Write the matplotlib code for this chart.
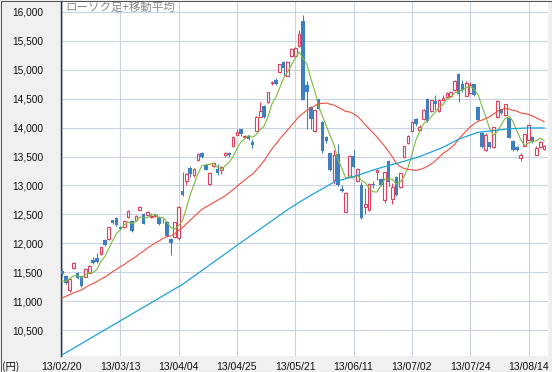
import matplotlib
matplotlib.use("Agg")
import matplotlib.pyplot as plt
from matplotlib.patches import Rectangle
import numpy as np

# ---- data (Nikkei-style daily candles, 13/02/20 .. 13/08/20) ----
tick_pos = [0, 15, 30, 45, 60, 75, 90, 105, 120]
tick_labels = ["13/02/20", "13/03/13", "13/04/04", "13/04/25", "13/05/21",
               "13/06/11", "13/07/02", "13/07/24", "13/08/14"]

opens = [11520, 11430, 11200, 11580, 11480, 11430, 11420, 11490, 11720, 11750,
         11810, 12050, 12070, 12395, 12440, 12280, 12285, 12450, 12385, 12410,
         12585, 12500, 12495, 12455, 12480, 12450, 12410, 12370, 12070, 12110,
         12100, 12900, 13075, 13310, 13175, 13445, 13565, 13360, 13020, 13335,
         13290, 13262, 13520, 13570, 13680, 13880, 13975, 13835, 13860, 13745,
         13950, 14190, 14375, 14440, 14765, 14830, 14955, 15135, 14900, 15245,
         15245, 15420, 15850, 14740, 14360, 13940, 14490, 14090, 13840, 13555,
         13100, 13550, 12945, 12550, 13145, 13517, 13080, 13000, 12630, 12580,
         13030, 13230, 13115, 12750, 13430, 12760, 13150, 12975, 13490, 13730,
         13940, 14150, 13960, 14150, 14490, 14285, 14466, 14280, 14470, 14525,
         14555, 14650, 14925, 14750, 14555, 14600, 14750, 14360, 13900, 13620,
         13747, 13665, 14180, 14320, 14224, 14160, 13775, 13670, 13480, 13690,
         13790, 13845, 13530, 13665, 13625]
highs = [11540, 11450, 11400, 11670, 11500, 11440, 11570, 11620, 11760, 11830,
         11940, 12070, 12290, 12410, 12460, 12300, 12400, 12570, 12400, 12490,
         12650, 12530, 12560, 12520, 12530, 12470, 12420, 12390, 12090, 12370,
         12650, 13225, 13210, 13340, 13300, 13560, 13580, 13370, 13230, 13400,
         13380, 13340, 13580, 13580, 13850, 13985, 13985, 13870, 13870, 13800,
         14200, 14440, 14390, 14620, 14800, 14860, 15100, 15150, 15150, 15380,
         15390, 15680, 15942, 14800, 14380, 14320, 14500, 14110, 13860, 13570,
         13620, 13710, 13000, 12890, 13520, 13620, 13300, 13060, 12950, 13050,
         13080, 13290, 13130, 13240, 13440, 13040, 13170, 13220, 13690, 13870,
         14110, 14170, 14040, 14320, 14510, 14480, 14560, 14490, 14570, 14610,
         14630, 14830, 14953, 14830, 14800, 14790, 14760, 14380, 13920, 13900,
         13760, 14020, 14470, 14330, 14410, 14170, 13780, 13690, 13560, 13890,
         14070, 13860, 13680, 13770, 13700]
lows = [11440, 11290, 11150, 11560, 11380, 11240, 11410, 11480, 11640, 11660,
        11800, 11950, 12060, 12330, 12300, 12230, 12270, 12440, 12200, 12400,
        12570, 12330, 12480, 12440, 12460, 12320, 12350, 12130, 11805, 12100,
        12060, 12810, 13000, 13150, 13150, 13430, 13470, 13260, 13000, 13320,
        13180, 13200, 13500, 13500, 13670, 13870, 13850, 13820, 13790, 13640,
        13940, 14180, 14170, 14430, 14740, 14740, 14940, 14890, 14890, 15230,
        15230, 15400, 14470, 13981, 13980, 13920, 14300, 13560, 13740, 13250,
        13030, 12990, 12880, 12548, 13130, 13300, 13060, 12415, 12500, 12560,
        12950, 13100, 12990, 12700, 12990, 12680, 12820, 12950, 13480, 13720,
        13930, 14030, 13940, 14140, 14100, 14270, 14300, 14270, 14460, 14510,
        14540, 14640, 14450, 14620, 14540, 14580, 14540, 14110, 13640, 13600,
        13650, 13650, 14170, 14240, 14210, 13820, 13590, 13600, 13430, 13680,
        13780, 13740, 13520, 13650, 13610]
closes = [11468, 11309, 11386, 11662, 11399, 11254, 11559, 11606, 11652, 11683,
          11932, 11968, 12284, 12349, 12315, 12240, 12381, 12561, 12221, 12468,
          12636, 12339, 12546, 12472, 12494, 12336, 12398, 12135, 12003, 12362,
          12635, 12834, 13193, 13192, 13288, 13549, 13485, 13276, 13221, 13383,
          13220, 13316, 13568, 13530, 13843, 13926, 13884, 13861, 13799, 13694,
          14180, 14286, 14191, 14608, 14782, 14758, 15096, 15037, 15138, 15361,
          15381, 15627, 14484, 14612, 14143, 14312, 14326, 13589, 13775, 13262,
          13534, 13015, 12904, 12878, 13514, 13318, 13289, 12445, 12686, 13033,
          13007, 13260, 13015, 13230, 13063, 12969, 12834, 13214, 13677, 13853,
          14099, 14055, 14019, 14310, 14109, 14473, 14417, 14473, 14506, 14599,
          14615, 14809, 14590, 14658, 14779, 14731, 14563, 14130, 13661, 13870,
          13668, 14006, 14466, 14258, 14401, 13825, 13606, 13615, 13519, 13885,
          14050, 13753, 13650, 13758, 13690]
# closes of the 24 sessions before 13/02/20 (needed for the moving averages)
prior_closes = [10600, 10610, 10913, 10748, 10710, 10487, 10621, 10927, 10824,
                10867, 11114, 11139, 11191, 11260, 11047, 11464, 11357, 11153,
                11369, 11251, 11307, 11174, 11408, 11372]
# 75-day moving average
ma75_idx = [0, 15, 31, 45, 58, 61, 64, 70, 76, 81, 87, 92, 98, 102, 107, 111, 115, 120, 124]
ma75_val = [10070, 10660, 11290, 11965, 12580, 12710, 12830, 13060, 13175, 13288,
            13400, 13500, 13660, 13800, 13920, 13950, 13980, 13995, 13995]

# ---- derived ----
allc = np.array(prior_closes + closes, dtype=float)
n = len(closes)
off = len(prior_closes)
ma5 = np.array([allc[off + i - 4: off + i + 1].mean() for i in range(n)])
ma25 = np.array([allc[off + i - 24: off + i + 1].mean() for i in range(n)])
x = np.arange(n)
O = np.array(opens, float); H = np.array(highs, float)
L = np.array(lows, float); C = np.array(closes, float)
up = C >= O

W, Hh = 552, 372
fig = plt.figure(figsize=(W / 100, Hh / 100), dpi=100)
fig.patch.set_facecolor("#f0f0f0")
ax = fig.add_axes([61 / W, 16 / Hh, (548 - 61) / W, (371 - 16) / Hh])
ax.set_facecolor("white")

RED = "#e0405e"
BLUE = "#3d7fc1"

# wicks
ax.vlines(x[up], L[up], H[up], color=RED, lw=0.75, zorder=3)
ax.vlines(x[~up], L[~up], H[~up], color=BLUE, lw=0.75, zorder=3)
# bodies
bu = np.maximum(C[up] - O[up], 8)
ax.bar(x[up], bu, bottom=O[up], width=0.68, facecolor="white",
       edgecolor=RED, lw=0.8, zorder=4)
bd = np.maximum(O[~up] - C[~up], 8)
ax.bar(x[~up], bd, bottom=C[~up], width=0.92, color=BLUE, lw=0, zorder=4)

# moving averages
ax.plot(x, ma5, color="#7cbc3a", lw=0.8, zorder=5)
ax.plot(x, ma25, color="#f0503c", lw=0.8, zorder=5)
ax.plot(ma75_idx, ma75_val, color="#1ea2dc", lw=0.9, zorder=5)

ax.set_xlim(-0.25, 125.0)
ax.set_ylim(10052, 16190)
yt = list(range(10500, 16001, 500))
ax.set_yticks(yt)
ax.set_yticklabels([f"{v:,}" for v in yt])
ax.set_xticks(tick_pos)
ax.set_xticklabels(tick_labels)
ax.grid(True, color="#c9d3e6", lw=0.8, zorder=0)
ax.set_axisbelow(True)
ax.tick_params(axis="both", length=0)
ax.tick_params(axis="y", pad=13, labelsize=7.3, labelcolor="#111111")
ax.tick_params(axis="x", pad=4.5, labelsize=7.5, labelcolor="#111111")
for t in ax.get_xticklabels() + ax.get_yticklabels():
    t.set_fontfamily("Liberation Sans")
for s in ["top", "right", "bottom"]:
    ax.spines[s].set_visible(False)
ax.spines["left"].set_color("#333333")
ax.spines["left"].set_linewidth(1.0)

fig.text(65 / W, 1 - 0.5 / Hh, "ローソク足+移動平均", ha="left", va="top",
         color="#8a8a8a", fontsize=8.3, family=["Noto Sans CJK JP", "DejaVu Sans"])
fig.text(2 / W, 5 / Hh, "(円)", ha="left", va="center", color="#111111",
         fontsize=7.5, family=["Noto Sans CJK JP", "DejaVu Sans"])

fig.add_artist(Rectangle((0.5 / W, 0.5 / Hh), (W - 1) / W, (Hh - 1) / Hh,
                         transform=fig.transFigure, fill=False,
                         edgecolor="#555555", lw=0.75))

fig.savefig("out.png", dpi=100, facecolor=fig.get_facecolor())
